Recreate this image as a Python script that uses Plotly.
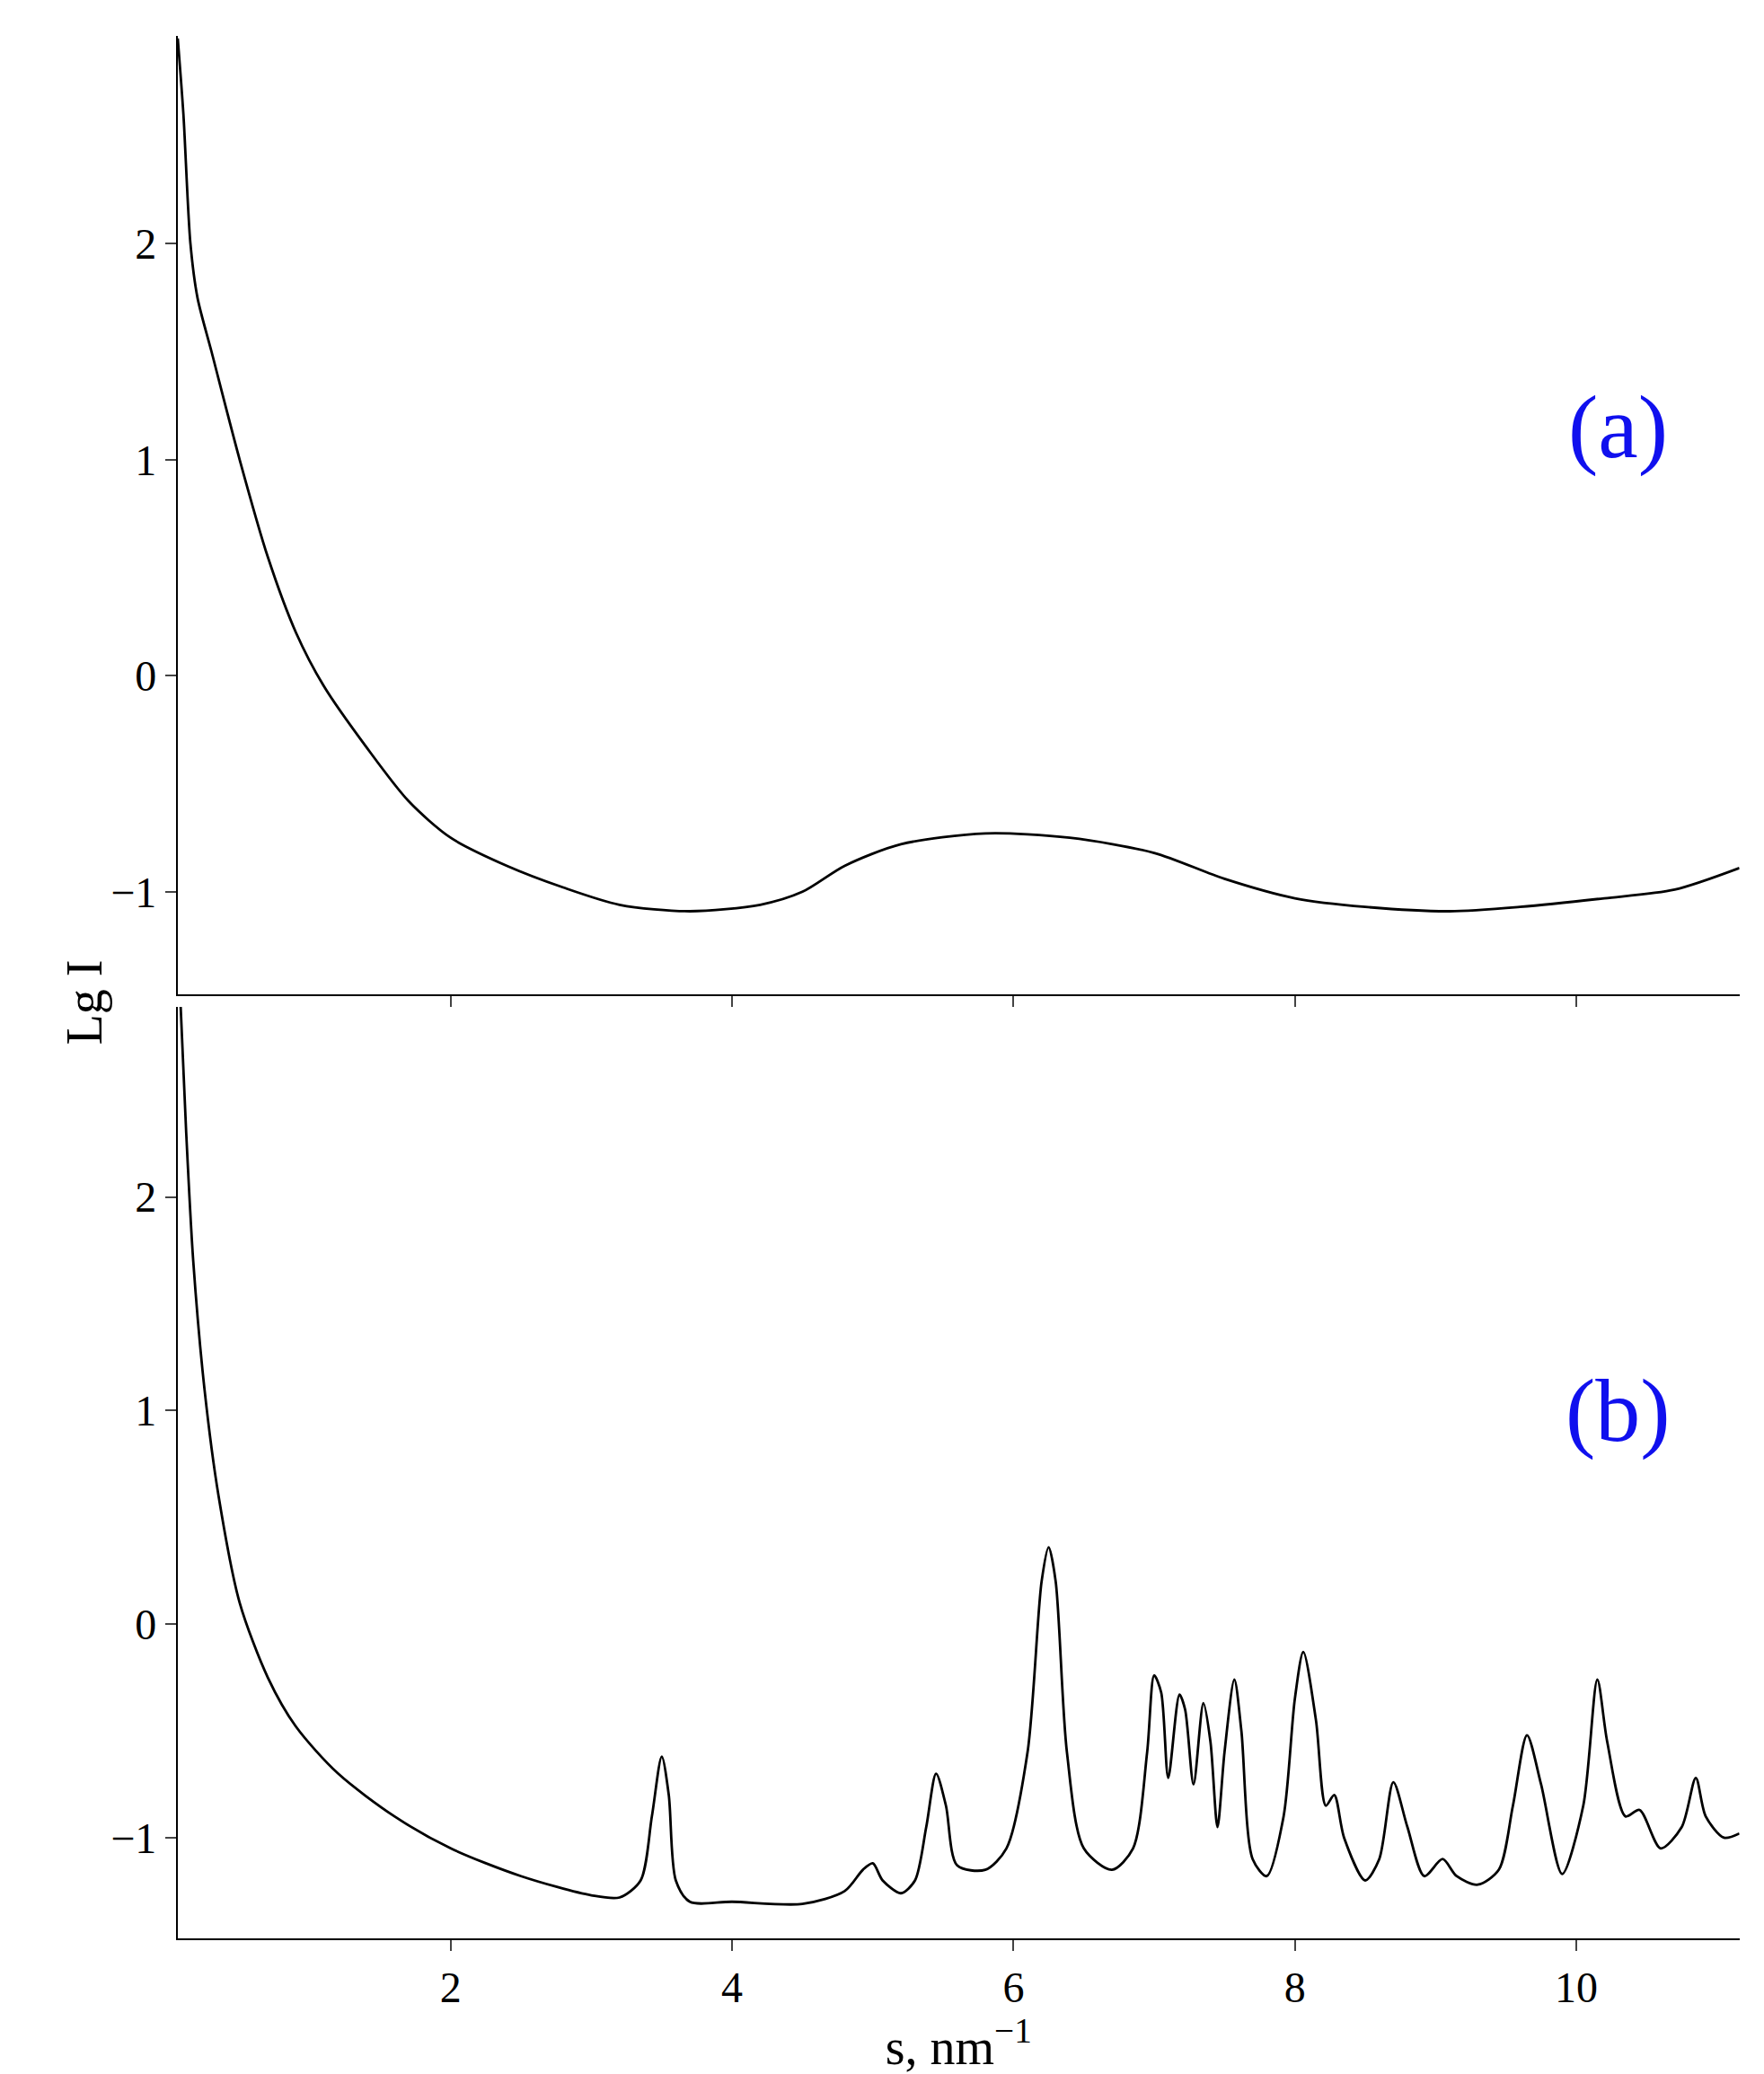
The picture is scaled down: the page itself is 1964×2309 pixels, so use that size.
import plotly.graph_objects as go
from plotly.subplots import make_subplots

# panel (a)
s_a = [0.06, 0.1, 0.15, 0.2, 0.3, 0.5, 0.7, 0.9, 1.1, 1.4, 1.7, 2.0, 2.4, 2.8, 3.2, 3.7, 4.2, 4.5,
       4.8, 5.2, 5.8, 6.4, 7.0, 7.5, 8.0, 8.5, 9.1, 9.6, 10.2, 10.7, 11.16]
lg_a = [2.95, 2.6, 2.0, 1.75, 1.5, 1.0, 0.55, 0.2, -0.05, -0.33, -0.58, -0.75, -0.88, -0.98, -1.06,
        -1.09, -1.06, -1.0, -0.88, -0.78, -0.73, -0.75, -0.82, -0.94, -1.03, -1.07, -1.09, -1.07,
        -1.03, -0.99, -0.89]

# panel (b)
s_b = [0.08, 0.12, 0.17, 0.25, 0.35, 0.5, 0.7, 0.9, 1.2, 1.6, 2.0, 2.5, 3.0, 3.2, 3.35, 3.43, 3.5,
       3.55, 3.6, 3.7, 4.0, 4.5, 4.8, 4.93, 5.0, 5.07, 5.2, 5.3, 5.38, 5.45, 5.52, 5.6, 5.8, 5.95,
       6.1, 6.2, 6.25, 6.3, 6.38, 6.5, 6.7, 6.85, 6.95, 7.0, 7.05, 7.1, 7.18, 7.22, 7.28, 7.35, 7.4,
       7.45, 7.5, 7.57, 7.62, 7.7, 7.8, 7.92, 8.0, 8.06, 8.15, 8.22, 8.28, 8.35, 8.5, 8.6, 8.7, 8.8,
       8.92, 9.05, 9.15, 9.3, 9.45, 9.55, 9.65, 9.75, 9.9, 10.05, 10.15, 10.22, 10.35, 10.45, 10.6,
       10.75, 10.85, 10.92, 11.05, 11.16]
lg_b = [2.9, 2.3, 1.7, 1.1, 0.6, 0.1, -0.25, -0.48, -0.7, -0.9, -1.05, -1.18, -1.27, -1.28, -1.2,
        -0.9, -0.62, -0.8, -1.2, -1.3, -1.3, -1.31, -1.25, -1.15, -1.12, -1.2, -1.26, -1.2, -0.95,
        -0.7, -0.85, -1.13, -1.15, -1.05, -0.6, 0.2, 0.36, 0.2, -0.6, -1.05, -1.15, -1.05, -0.6,
        -0.24, -0.32, -0.72, -0.33, -0.4, -0.75, -0.37, -0.55, -0.95, -0.6, -0.26, -0.5, -1.1,
        -1.18, -0.9, -0.35, -0.13, -0.45, -0.85, -0.8, -1.0, -1.2, -1.1, -0.74, -0.95, -1.18, -1.1,
        -1.18, -1.22, -1.15, -0.85, -0.52, -0.75, -1.17, -0.85, -0.26, -0.55, -0.9, -0.87, -1.05,
        -0.95, -0.72, -0.9, -1.0, -0.98]

xticks = [2, 4, 6, 8, 10]
yticks = [-1, 0, 1, 2]
yticklabels = ["\u22121", "0", "1", "2"]

fig = make_subplots(rows=2, cols=1)
fig.add_trace(go.Scatter(x=s_a, y=lg_a, mode="lines", line=dict(color="black", width=2.8, shape="spline", smoothing=0.8)), 1, 1)
fig.add_trace(go.Scatter(x=s_b, y=lg_b, mode="lines", line=dict(color="black", width=2.8, shape="spline", smoothing=0.8)), 2, 1)

font = dict(family="Liberation Serif", size=48, color="black")
ax = dict(range=[0.06, 11.16], tickvals=xticks, ticks="outside", ticklen=12, tickwidth=2,
          showline=True, linecolor="black", linewidth=2, showgrid=False, zeroline=False,
          domain=[0.0967, 0.982], tickfont=font)
fig.update_xaxes(**ax)
fig.update_xaxes(showticklabels=False, row=1, col=1)
ay = dict(tickvals=yticks, ticktext=yticklabels, ticks="outside", ticklen=12, tickwidth=2,
          showline=True, linecolor="black", linewidth=2, showgrid=False, zeroline=False, tickfont=font)
fig.update_yaxes(**ay)
fig.update_yaxes(range=[-1.475, 2.96], domain=[0.524, 0.986], row=1, col=1)
fig.update_yaxes(range=[-1.47, 2.89], domain=[0.069, 0.518], row=2, col=1)
fig.update_xaxes(title=dict(text="s, nm<sup>\u22121</sup>", font=dict(family="Liberation Serif", size=56, color="black"), standoff=8), row=2, col=1)

fig.add_annotation(x=10.3, y=1.15, xref="x", yref="y", text="(a)", showarrow=False,
                   font=dict(family="Liberation Serif", size=100, color="#1010ee"))
fig.add_annotation(x=10.3, y=1.0, xref="x2", yref="y2", text="(b)", showarrow=False,
                   font=dict(family="Liberation Serif", size=100, color="#1010ee"))
fig.add_annotation(x=0.027, y=0.52, xref="paper", yref="paper", text="Lg I", textangle=-90,
                   showarrow=False, font=dict(family="Liberation Serif", size=56, color="black"))

fig.update_layout(width=1964, height=2309, showlegend=False, plot_bgcolor="white",
                  paper_bgcolor="white", margin=dict(l=0, r=0, t=0, b=0))
fig.write_html("out.html")
